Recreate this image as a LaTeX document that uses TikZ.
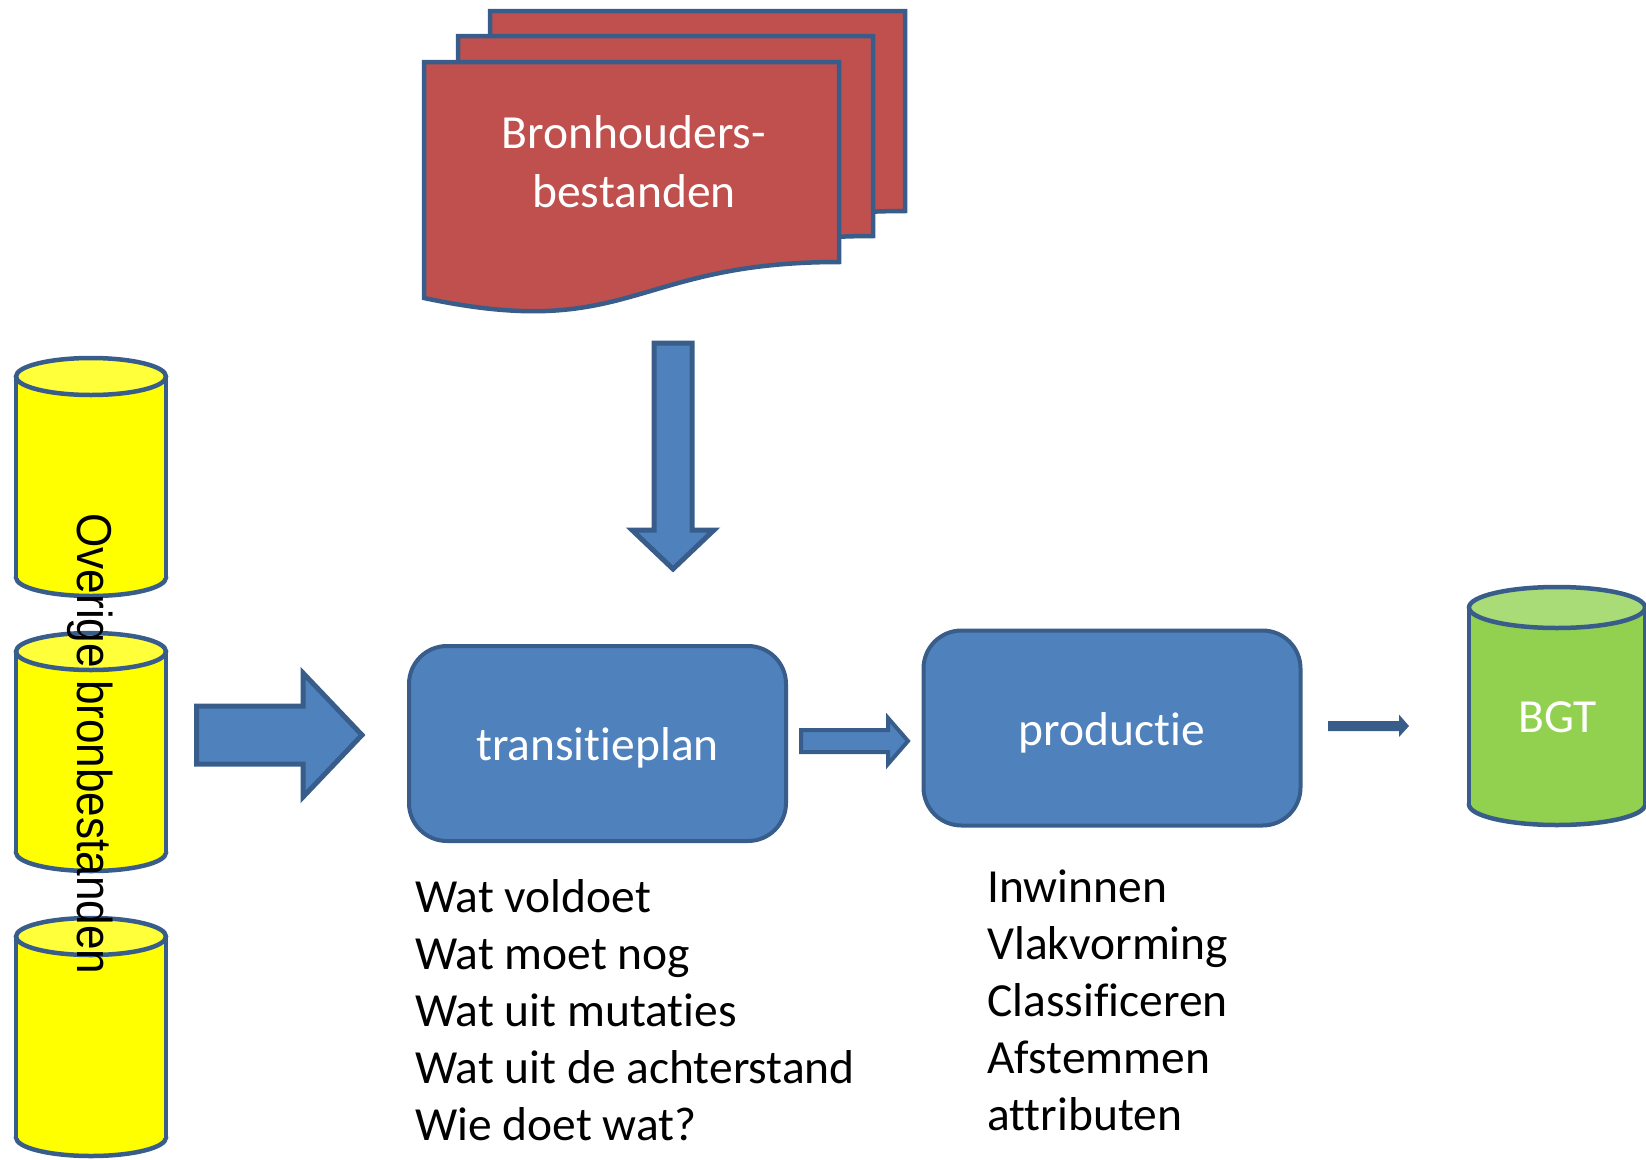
\documentclass[tikz,border=0pt]{standalone}
\usepackage{fontspec}
\setmainfont{Carlito}[Ligatures={NoCommon,NoContextual}]
\newfontfamily\libsans{Liberation Sans}
\definecolor{bordc}{HTML}{385D8A}
\definecolor{bluef}{HTML}{4F81BD}
\definecolor{redf}{HTML}{C0504D}
\definecolor{yelf}{HTML}{FFFF00}
\definecolor{yeltop}{HTML}{FFFF3A}
\definecolor{grnf}{HTML}{92D050}
\definecolor{grntop}{HTML}{A9DB76}
\newcommand\dbcyl[7]{%
  \filldraw[cylline, fill=#6] (#1,#3) ellipse[x radius=#4, y radius=#5];
  \fill[#6] ({#1-#4},#2) rectangle ({#1+#4},#3);
  \draw[cylline] ({#1-#4},#2) -- ({#1-#4},#3);
  \draw[cylline] ({#1+#4},#2) -- ({#1+#4},#3);
  \filldraw[cylline, fill=#7] (#1,#2) ellipse[x radius=#4, y radius=#5];
}
\newcommand\docsheet[2]{%
  \filldraw[sheet] (#1,#2) -- ({#1+415},#2) -- ({#1+415},{#2+200})
    .. controls ({#1+207.5},{#2+200}) and ({#1+207.5},{#2+280}) .. (#1,{#2+236}) -- cycle;
}
\begin{document}
\begin{tikzpicture}[x=1pt,y=-1pt,line join=miter,
  cylline/.style={draw=bordc,line width=4.5pt},
  sheet/.style={draw=bordc,fill=redf,line width=4.5pt},
  blockarrow/.style={draw=bordc,fill=bluef,line width=5pt},
  procbox/.style={draw=bordc,fill=bluef,line width=4pt,rounded corners=38pt,
    minimum width=377pt,minimum height=195pt,inner sep=0pt,text=white,
    font=\fontsize{47.5}{57}\selectfont,text height=40pt,text depth=6pt},
  wtext/.style={text=white,inner sep=0pt,font=\fontsize{47.5}{59}\selectfont},
  listtext/.style={inner sep=0pt,align=left,font=\fontsize{47.5}{57}\selectfont}]
\useasboundingbox (0,0) rectangle (1646,1159);

% stacked documents
\docsheet{490}{11}
\docsheet{458}{36}
\docsheet{424}{62}
\node[wtext,align=center,anchor=base] (bron) at (634,207) {Bronhouders-\\bestanden};

% down arrow
\filldraw[blockarrow] (654,343) -- (692,343) -- (692,530) -- (714,530) -- (673,569)
  -- (632,530) -- (654,530) -- cycle;

% yellow cylinders
\dbcyl{91}{376.5}{577.5}{75}{18.5}{yelf}{yeltop}
\dbcyl{91}{651.5}{852.5}{75}{18.5}{yelf}{yeltop}
\dbcyl{91}{936.5}{1137.5}{75}{18.5}{yelf}{yeltop}
\node[rotate=-90,inner sep=0pt,font=\libsans\fontsize{49}{57}\selectfont] (overig) at (90,744)
  {\scalebox{0.9}[1]{Overige bronbestanden}};

% big right arrow
\filldraw[blockarrow] (196.5,706) -- (303,706) -- (303,673) -- (362,735) -- (303,797)
  -- (303,764) -- (196.5,764) -- cycle;

% process boxes
\node[procbox] (tp) at (597.5,743.5) {transitieplan};
\node[procbox] (prod) at (1112,728) {productie};

% arrow between boxes
\filldraw[draw=bordc,fill=bluef,line width=4pt] (801,730) -- (888,730) -- (888,718)
  -- (908,741) -- (888,764) -- (888,752) -- (801,752) -- cycle;

% thin arrow to BGT
\fill[bordc] (1328,721) -- (1399,721) -- (1399,714.5) -- (1409,726) -- (1399,737)
  -- (1399,731) -- (1328,731) -- cycle;

% BGT cylinder
\dbcyl{1557}{607.5}{804.5}{88}{20.5}{grnf}{grntop}
\node[wtext,anchor=base] (bgt) at (1557.5,732) {BGT};

% lists
\node[listtext,anchor=base west] (list1) at (415,1140)
  {Wat voldoet\\Wat moet nog\\Wat uit mutaties\\Wat uit de achterstand\\Wie doet wat?};
\node[listtext,anchor=base west] (list2) at (987,1130)
  {Inwinnen\\Vlakvorming\\Classificeren\\Afstemmen\\attributen};
\end{tikzpicture}
\end{document}
